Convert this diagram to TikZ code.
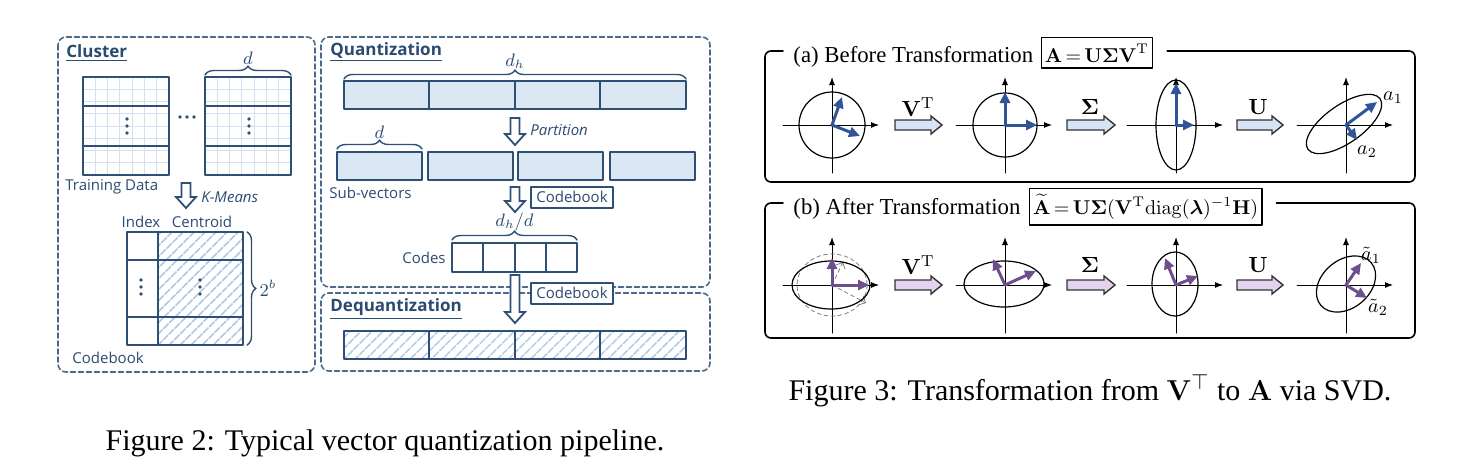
\documentclass[tikz,border=0pt]{standalone}
\usepackage{amsmath}
\usepackage[no-math]{fontspec}
\setmainfont{Liberation Serif}
\setsansfont{Open Sans}
\usetikzlibrary{arrows.meta,patterns.meta,decorations.pathreplacing,calc}
\definecolor{vqline}{HTML}{2E5077}
\definecolor{vqtext}{HTML}{2A4A70}
\definecolor{vqfill}{HTML}{DCE7F4}
\definecolor{vqgrid}{HTML}{D3E0EE}
\definecolor{vqhatch}{HTML}{B3CCE6}
\definecolor{svdblue}{HTML}{2F5597}
\definecolor{svdpurple}{HTML}{6E4F8E}
\definecolor{arrblue}{HTML}{D6E4F6}
\definecolor{arrpurple}{HTML}{E4D3EE}
\newcommand\vqdown[3]{\draw[vqline,line width=0.9pt,fill=white,line join=miter]
  ({#1-4.5},#2) -- ({#1+4.5},#2) -- ({#1+4.5},{#3-11}) -- ({#1+10},{#3-11}) -- (#1,#3)
  -- ({#1-10},{#3-11}) -- ({#1-4.5},{#3-11}) -- cycle;}
\newcommand\svdright[4]{\draw[black!80,line width=0.7pt,fill=#4,line join=miter]
  (#1,{#3-5}) -- ({#2-11},{#3-5}) -- ({#2-11},{#3-9}) -- (#2,#3) -- ({#2-11},{#3+9})
  -- ({#2-11},{#3+5}) -- (#1,{#3+5}) -- cycle;}
\begin{document}
\begin{tikzpicture}[x=0.5pt,y=-0.5pt,line join=round,line cap=round,
  vqbox/.style={draw=vqline,line width=1.1pt,line cap=butt},
  vqpanel/.style={draw=vqline!85,line width=0.8pt,dash pattern=on 2.5pt off 1.5pt,rounded corners=4pt},
  vqtitle/.style={font=\sffamily\bfseries\fontsize{8.5}{10}\selectfont,text=vqtext,anchor=west,inner sep=0pt},
  vqlabel/.style={font=\sffamily\fontsize{7.5}{9}\selectfont,text=vqtext,inner sep=0pt},
  vqital/.style={font=\sffamily\itshape\fontsize{7.5}{9}\selectfont,text=vqtext,inner sep=0pt,anchor=west},
  vqmath/.style={text=vqtext,inner sep=0pt,font=\fontsize{9}{10}\selectfont},
  vqbrace/.style={draw=vqline,line width=0.7pt,decorate,decoration={brace,amplitude=4.5pt}},
  vqhatched/.style={pattern={Lines[angle=45,distance=4pt,line width=0.9pt]},pattern color=vqhatch},
  cbbox/.style={draw=vqline,line width=1pt,fill=white,text=vqtext,font=\sffamily\fontsize{7.5}{9}\selectfont,inner xsep=2.5pt,inner ysep=0pt,minimum height=10.5pt},
  frame/.style={line width=0.8pt,rounded corners=3pt},
  ttl/.style={font=\fontsize{11.4}{13}\selectfont,inner sep=0pt,anchor=base west},
  eqbox/.style={draw,line width=0.7pt,inner xsep=1.8pt,inner ysep=3pt,anchor=base west,font=\fontsize{9.6}{11}\selectfont},
  axis/.style={line width=0.5pt,-{Latex[length=4pt,width=3pt]}},
  vec/.style={line width=1.5pt,-{Triangle[length=5.5pt,width=5pt]}},
  oplabel/.style={font=\fontsize{11}{12}\selectfont,inner sep=0pt},
  caption/.style={font=\fontsize{15}{17}\selectfont,inner sep=0pt,anchor=base},
  ]
\useasboundingbox (0,0) rectangle (1471,466);
\draw[vqpanel] (58,37) rectangle (315,372);
\draw[vqpanel] (321,37) rectangle (710,287);
\draw[vqpanel] (321,293) rectangle (710,371);
\node[vqtitle] (clu) at (66,53) {\underline{Cluster}};
\node[vqtitle] (qua) at (330,52) {\underline{Quantization}};
\node[vqtitle] (deq) at (330,309) {\underline{Dequantization}};
\foreach \x in {83,205}{
  \foreach \k in {1,...,6} \draw[vqgrid,line width=0.5pt] ({\x+\k*12.3},77) -- ++(0,98);
  \foreach \k in {1,...,7} \draw[vqgrid,line width=0.5pt] (\x,{77+\k*12.25}) -- ++(86,0);
  \draw[vqbox] (\x,77) rectangle ++(86,98) (\x,106) -- ++(86,0) (\x,146) -- ++(86,0);
  \foreach \y in {119,126,133} \fill[vqline] ({\x+44},\y) circle (1.8);
}
\foreach \x in {180,187,194} \fill[vqline] (\x,117) circle (1.8);
\draw[vqbrace] (205,75) -- (291,75) node[vqmath,midway,above=5pt] (dmat) {$d$};
\node[vqlabel,anchor=west] (trd) at (65,187) {Training Data};
\vqdown{186}{183}{208}
\node[vqital] (kmn) at (201,197) {K-Means};
\node[vqlabel] (idx) at (141,222) {Index};
\node[vqlabel] (cen) at (202,222) {Centroid};
\fill[vqhatched] (158,232) rectangle (243,345);
\draw[vqbox] (127,232) rectangle (243,345) (158,232) -- (158,345)
  (127,260) -- (243,260) (127,317) -- (243,317);
\foreach \x in {141,200} \foreach \y in {280,287,294} \fill[vqline] (\x,\y) circle (1.8);
\draw[vqbrace] (247,232) -- (247,345) node[vqmath,midway,right=6pt] (nb) {$2^b$};
\node[vqlabel,anchor=west] (cbk) at (72,358) {Codebook};
\fill[vqfill] (344,81) rectangle (686,109);
\draw[vqbox] (344,81) rectangle (686,109);
\foreach \x in {429,515,600} \draw[vqbox] (\x,81) -- (\x,109);
\draw[vqbrace] (344,79) -- (686,79) node[vqmath,midway,above=5pt] (dh) {$d_h$};
\vqdown{515}{118}{145}
\node[vqital] (par) at (530,130) {Partition};
\foreach \x in {337,428,518,610} \draw[vqbox,fill=vqfill] (\x,152) rectangle ++(85,28);
\draw[vqbrace] (337,149) -- (422,149) node[vqmath,midway,above=5pt] (dsub) {$d$};
\node[vqlabel,anchor=west] (sub) at (329,193) {Sub-vectors};
\vqdown{515}{187}{212}
\node[cbbox] (cbq) at (572,197) {Codebook};
\draw[vqbox] (452,243) rectangle (577,272);
\foreach \x in {483,515,546} \draw[vqbox] (\x,243) -- (\x,272);
\draw[vqbrace] (452,240) -- (577,240) node[vqmath,midway,above=4pt] (dhd) {$d_h/d$};
\node[vqlabel,anchor=east] (cod) at (446,258) {Codes};
\vqdown{515}{275}{323}
\node[cbbox] (cbd) at (572,293) {Codebook};
\fill[vqhatched] (344,331) rectangle (686,359);
\draw[vqbox] (344,331) rectangle (686,359);
\foreach \x in {429,515,600} \draw[vqbox] (\x,331) -- (\x,359);
\node[caption] (capvq) at (385,450) {Figure 2: Typical vector quantization pipeline.};
\coordinate (topa) at (0,51);
\coordinate (topb) at (0,203);
\node[ttl] (tta) at (793,62) {(a) Before Transformation};
\node[eqbox] (eqa) at ([xshift=3.5pt]tta.base east) {$\mathbf{A}\mskip3mu{=}\mskip3mu\mathbf{U\Sigma V}^{\mathrm{T}}$};
\draw[frame] ($(tta.west|-topa)+(-10,0)$) -| (765,182) -| (1415,51) -- ($(eqa.east|-topa)+(14,0)$);
\node[ttl] (ttb) at (793,214) {(b) After Transformation};
\node[eqbox] (eqb) at ([xshift=4pt]ttb.base east) {$\widetilde{\mathbf{A}}\mskip3mu{=}\mskip3mu\mathbf{U\Sigma}(\mathbf{V}^{\mathrm{T}}\mathrm{diag}(\boldsymbol{\lambda})^{-1}\mathbf{H})$};
\draw[frame] ($(ttb.west|-topb)+(-10,0)$) -| (765,338) -| (1415,203) -- ($(eqb.east|-topb)+(14,0)$);
\foreach \cy in {125,285}
  \foreach \cx in {832,1005,1176,1346}{
    \draw[axis] ({\cx-49},\cy) -- ({\cx+47},\cy);
    \draw[axis] (\cx,{\cy+48}) -- (\cx,{\cy-48});
  }
\draw[line width=0.6pt] (832,125) circle (33) (1005,125) circle (32) (1176,125) ellipse (20 and 45);
\draw[line width=0.6pt,rotate around={35:(1344,124)}] (1344,124) ellipse (44 and 19);
\foreach \cx/\ex/\ey in {832/842/97,832/860/136,1005/1005/92,1005/1037/125,1176/1176/83,1176/1194/125,1346/1377/102,1346/1357/140}
  \draw[vec,svdblue] (\cx,125) -- (\ex,\ey);
\draw[gray,line width=0.4pt,dash pattern=on 2pt off 1.5pt] (832,285) ellipse (35 and 31);
\draw[gray,line width=0.4pt,dash pattern=on 2pt off 1.5pt,-{Straight Barb[length=2.5pt]}] (832,285) -- (843,262);
\draw[gray,line width=0.4pt,dash pattern=on 2pt off 1.5pt,-{Straight Barb[length=2.5pt]}] (832,285) -- (866,303);
\draw[line width=0.6pt] (831,285) ellipse (39 and 24) (1004,284) ellipse (40 and 23) (1175,284) ellipse (23 and 32);
\draw[line width=0.6pt,rotate around={40:(1346,284)}] (1346,284) ellipse (33 and 24);
\foreach \cx/\ex/\ey in {832/832/258,832/869/285,1005/993/259,1005/1036/271,1176/1165/258,1176/1198/276,1346/1361/263,1346/1367/298}
  \draw[vec,svdpurple] (\cx,285) -- (\ex,\ey);
\foreach \y/\c in {125/arrblue,285/arrpurple}{
  \svdright{895}{942}{\y}{\c}
  \svdright{1067}{1115}{\y}{\c}
  \svdright{1237}{1283}{\y}{\c}
}
\node[oplabel] (vta) at (918,107) {$\mathbf{V}^{\mathrm{T}}$};
\node[oplabel] (sga) at (1090,107) {$\boldsymbol{\Sigma}$};
\node[oplabel] (ua) at (1258,107) {$\mathbf{U}$};
\node[oplabel] (vtb) at (918,265) {$\mathbf{V}^{\mathrm{T}}$};
\node[oplabel] (sgb) at (1090,265) {$\boldsymbol{\Sigma}$};
\node[oplabel] (ub) at (1258,265) {$\mathbf{U}$};
\node[font=\fontsize{10}{12}\selectfont,inner sep=0pt] (aa1) at (1393,98) {$a_1$};
\node[font=\fontsize{10}{12}\selectfont,inner sep=0pt] (aa2) at (1367,152) {$a_2$};
\node[font=\fontsize{10}{12}\selectfont,inner sep=0pt] (ab1) at (1371,255) {$\tilde{a}_1$};
\node[font=\fontsize{10}{12}\selectfont,inner sep=0pt] (ab2) at (1378,307) {$\tilde{a}_2$};
\node[caption] (capsvd) at (1090,400) {Figure 3: Transformation from $\mathbf{V}^{\top}$ to $\mathbf{A}$ via SVD.};
\end{tikzpicture}
\end{document}
